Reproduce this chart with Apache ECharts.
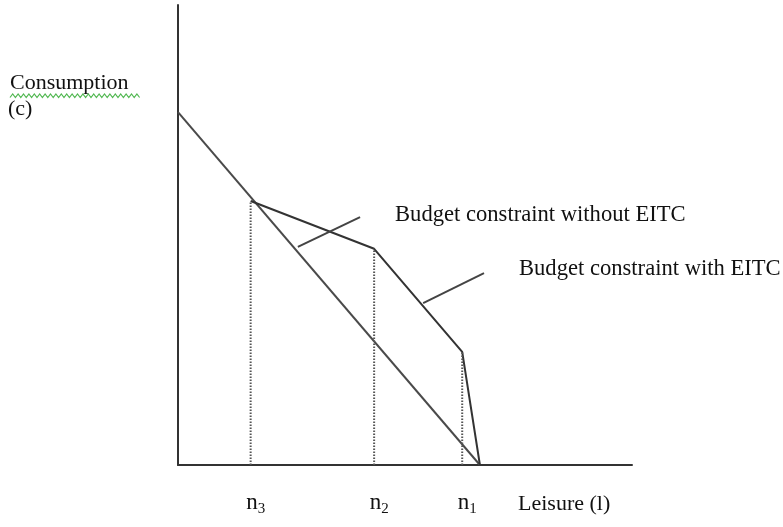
<!DOCTYPE html>
<html>
<head>
<meta charset="utf-8">
<script src="https://cdn.jsdelivr.net/npm/echarts@6/dist/echarts.min.js"></script>
<style>
  html, body { margin: 0; padding: 0; background: #fff; }
  #main { width: 783px; height: 527px; }
</style>
</head>
<body>
<div id="main"></div>
<script>
// leisure points n3, n2, n1 and consumption at the kinks
var nNames = ['n3', 'n2', 'n1'];
var nLeisure = [16, 43.2, 62.6];
var kinkConsumption = [57.4, 47.0, 24.6];
// budget line without EITC (intercept -> full leisure)
var withoutLeisure = [0, 66.5];
var withoutConsumption = [76.7, 0];
// budget line with EITC
var withLeisure = [16, 43.2, 62.6, 66.5];
var withConsumption = [57.4, 47.0, 24.6, 0];
// pointer lines to the two text labels
var pointerWithout = [[26.4, 47.4], [40.1, 53.9]];
var pointerWith = [[54.0, 35.2], [67.4, 41.7]];
var labelWithout = 'Budget constraint without EITC';
var labelWith = 'Budget constraint with EITC';

var chart = echarts.init(document.getElementById('main'));
var serif = 'Liberation Serif';

function zip(a, b) {
    return a.map(function (v, i) { return [v, b[i]]; });
}

var series = [
    {
        type: 'line', data: zip(withoutLeisure, withoutConsumption),
        symbol: 'none', silent: true,
        lineStyle: { color: '#4a4a4a', width: 2 }
    },
    {
        type: 'line', data: zip(withLeisure, withConsumption),
        symbol: 'none', silent: true,
        lineStyle: { color: '#333', width: 2 }
    }
];
// dotted drop lines from each kink down to the axis
nLeisure.forEach(function (x, i) {
    series.push({
        type: 'line', data: [[x, 0], [x, kinkConsumption[i]]],
        symbol: 'none', silent: true,
        lineStyle: { color: '#555', width: 2, type: [1.5, 1.5] }
    });
});
[[pointerWithout, labelWithout, -2], [pointerWith, labelWith, -4]].forEach(function (p) {
    series.push({
        type: 'line', data: p[0],
        symbol: 'none', silent: true,
        lineStyle: { color: '#444', width: 2 },
        endLabel: {
            show: true, distance: 35, offset: [0, p[2]],
            formatter: p[1],
            fontFamily: serif, fontSize: 22.6, color: '#111'
        }
    });
});

// green spell-check squiggle under "Consumption"
var squiggle = [];
for (var k = 0; k <= 48; k++) {
    squiggle.push([10 + k * 2.7, k % 2 ? 94 : 97.5]);
}

chart.setOption({
    animation: false,
    backgroundColor: '#fff',
    grid: { left: 178, right: 151, top: 5, bottom: 62 },
    xAxis: {
        type: 'value', min: 0, max: 100,
        splitLine: { show: false },
        axisTick: { show: false },
        axisLine: { show: true, onZero: false, lineStyle: { color: '#333', width: 2 } },
        axisLabel: {
            customValues: nLeisure,
            margin: 26,
            padding: [0, 0, 0, 10],
            formatter: function (v) {
                var i = nLeisure.indexOf(v);
                return '{n|n}{s|' + nNames[i].slice(1) + '}';
            },
            rich: {
                n: { fontFamily: serif, fontSize: 23, color: '#111', verticalAlign: 'bottom', padding: [0, 0, 3, 0] },
                s: { fontFamily: serif, fontSize: 15, color: '#111', verticalAlign: 'bottom' }
            }
        }
    },
    yAxis: {
        type: 'value', min: 0, max: 100,
        splitLine: { show: false },
        axisTick: { show: false },
        axisLabel: { show: false },
        axisLine: { show: true, onZero: false, lineStyle: { color: '#333', width: 2 } }
    },
    graphic: [
        { type: 'text', left: 10, top: 72, style: { text: 'Consumption', font: '22px "Liberation Serif"', fill: '#111' } },
        { type: 'text', left: 8, top: 98, style: { text: '(c)', font: '22px "Liberation Serif"', fill: '#111' } },
        { type: 'polyline', shape: { points: squiggle }, style: { stroke: '#52b852', lineWidth: 1.2, fill: null } },
        { type: 'text', left: 518, top: 493, style: { text: 'Leisure (l)', font: '22px "Liberation Serif"', fill: '#111' } }
    ],
    series: series
});
</script>
</body>
</html>
